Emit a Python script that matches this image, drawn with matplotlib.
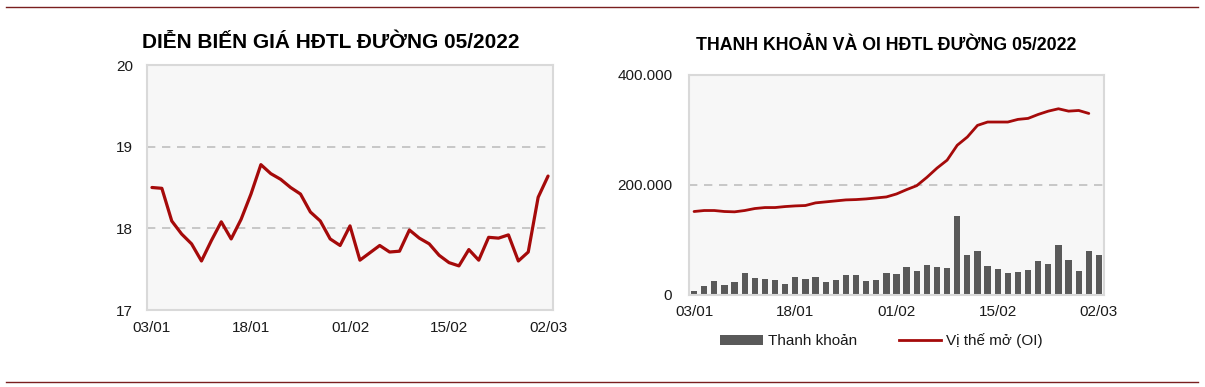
import matplotlib
matplotlib.use("Agg")
import matplotlib.pyplot as plt
from matplotlib.lines import Line2D
from matplotlib.patches import Patch
from matplotlib.ticker import FuncFormatter

plt.rcParams['font.family'] = ['Liberation Sans', 'DejaVu Sans']

# ---- data ----
dates = ["03/01", "04/01", "05/01", "06/01", "07/01", "10/01", "11/01", "12/01", "13/01", "14/01",
         "18/01", "19/01", "20/01", "21/01", "24/01", "25/01", "26/01", "27/01", "28/01", "31/01",
         "01/02", "02/02", "03/02", "04/02", "07/02", "08/02", "09/02", "10/02", "11/02", "14/02",
         "15/02", "16/02", "17/02", "18/02", "22/02", "23/02", "24/02", "25/02", "28/02", "01/03",
         "02/03"]
tick_labels = ["03/01", "18/01", "01/02", "15/02", "02/03"]

price = [18.50, 18.49, 18.09, 17.93, 17.81, 17.60, 17.85, 18.08, 17.87, 18.11,
         18.42, 18.78, 18.67, 18.60, 18.50, 18.42, 18.20, 18.09, 17.87, 17.79,
         18.03, 17.61, 17.70, 17.79, 17.71, 17.72, 17.98, 17.88, 17.81, 17.67,
         17.58, 17.54, 17.74, 17.61, 17.89, 17.88, 17.92, 17.60, 17.71, 18.38,
         18.64]

volume = [8000, 16300, 25300, 18000, 24000, 40400, 30700, 28900, 27100, 19900,
          32500, 28900, 32500, 23500, 27100, 36100, 36100, 25900, 27100, 39800,
          38000, 50600, 43400, 54200, 50600, 48800, 142800, 72300, 79500, 52400,
          47000, 40400, 41600, 45200, 61400, 56600, 90400, 63300, 44000, 79500,
          72300]

open_interest = [151800, 153600, 153600, 151800, 151200, 153600, 157200, 159000, 159000, 160800,
                 162000, 162700, 167500, 169300, 171100, 172900, 173500, 174700, 176500, 178300,
                 183700, 191600, 198800, 213900, 230700, 245200, 272300, 287300, 308400, 314500,
                 314500, 314500, 319300, 321100, 328300, 334300, 338600, 334300, 335500, 330100]

title_left = "DIỄN BIẾN GIÁ HĐTL ĐƯỜNG 05/2022"
title_right = "THANH KHOẢN VÀ OI HĐTL ĐƯỜNG 05/2022"

RED = "#A50A0A"
GREY_BAR = "#595959"
FRAME = "#D9D9D9"
BG = "#F7F7F7"
GRID = "#BFBFBF"
TXT = "#1A1A1A"

W, H = 1205, 387
fig = plt.figure(figsize=(W / 100, H / 100), dpi=100)

def px_axes(l, t, r, b):
    return fig.add_axes([l / W, 1 - b / H, (r - l) / W, (b - t) / H])

xs = list(range(len(dates)))
tick_pos = [dates.index(d) for d in tick_labels]

def style(ax):
    ax.set_facecolor(BG)
    for s in ax.spines.values():
        s.set_color(FRAME)
        s.set_linewidth(1.5)
    ax.tick_params(length=0, labelsize=11, labelcolor=TXT)
    ax.set_xlim(-0.5, len(dates) - 0.5)
    ax.set_xticks(tick_pos)
    ax.set_xticklabels(tick_labels)

# ---- left chart ----
ax1 = px_axes(147, 65, 553, 310)
style(ax1)
ax1.set_ylim(17, 20)
ax1.set_yticks([17, 18, 19, 20])
for yv in [18, 19]:
    ax1.axhline(yv, color=GRID, lw=1.2, ls=(0, (5, 4)), zorder=1)
ax1.plot(xs, price, color=RED, lw=2.3, solid_joinstyle='round', solid_capstyle='round', zorder=3)
ax1.tick_params(axis='y', pad=10)
ax1.tick_params(axis='x', pad=8)

# ---- right chart ----
ax2 = px_axes(689, 75, 1104, 295)
style(ax2)
ax2.set_ylim(0, 400000)
ax2.set_yticks([0, 200000, 400000])
ax2.yaxis.set_major_formatter(FuncFormatter(lambda v, p: f"{int(v):,}".replace(",", ".")))
ax2.axhline(200000, color=GRID, lw=1.2, ls=(0, (5, 4)), zorder=1)
ax2.bar(xs, volume, width=0.62, color=GREY_BAR, zorder=2)
ax2.plot(xs[:len(open_interest)], open_interest, color=RED, lw=2.0,
         solid_joinstyle='round', solid_capstyle='round', zorder=3)
ax2.tick_params(axis='y', pad=12)
ax2.tick_params(axis='x', pad=7)

handles = [Patch(facecolor=GREY_BAR, edgecolor='none'),
           Line2D([0], [0], color=RED, lw=2.0)]
fig.legend(handles, ["Thanh khoản", "Vị thế mở (OI)"], loc='center',
           bbox_to_anchor=(881.5 / W, 1 - 341 / H), ncol=2, frameon=False,
           fontsize=11, handlelength=2.8, handletextpad=0.3, columnspacing=2.73,
           labelcolor=TXT)

# ---- titles ----
fig.text(331 / W, 1 - 42 / H, title_left, ha='center', va='center',
         fontsize=15, fontweight='bold', color='black')
fig.text(886 / W, 1 - 45 / H, title_right, ha='center', va='center',
         fontsize=12.8, fontweight='bold', color='black')

# ---- red separator lines ----
fig.add_artist(Line2D([6 / W, 1198 / W], [1 - 7 / H, 1 - 7 / H], color="#7A1F1F", lw=1.0))
fig.add_artist(Line2D([6 / W, 1198 / W], [1 - 382 / H, 1 - 382 / H], color="#7A1F1F", lw=1.0))

fig.savefig("out.png", dpi=100, facecolor='white')
